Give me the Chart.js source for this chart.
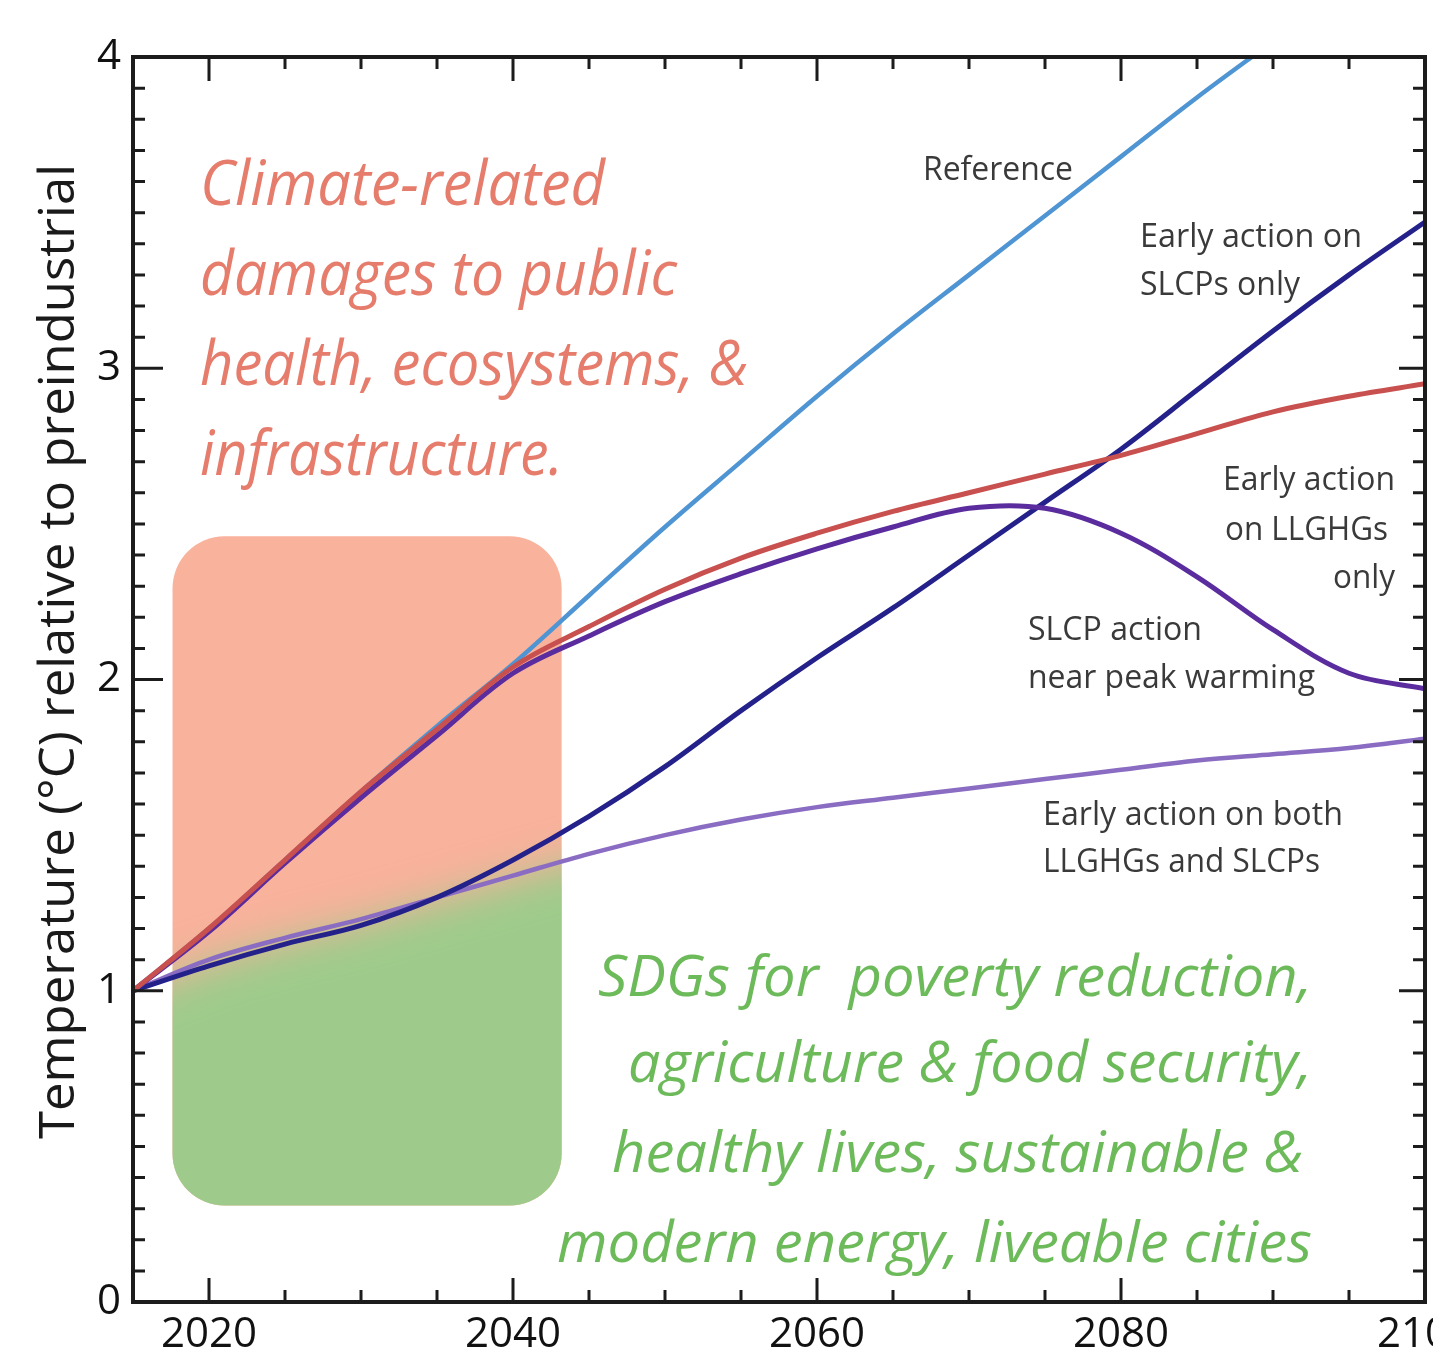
<!DOCTYPE html>
<html>
<head>
<meta charset="utf-8">
<script src="https://cdn.jsdelivr.net/npm/chart.js@4.4.1/dist/chart.umd.min.js"></script>
<style>
html, body { margin: 0; padding: 0; background: #fff; overflow: hidden; }
#wrap { width: 1433px; height: 1349px; overflow: hidden; }
</style>
</head>
<body>
<div id="wrap"><canvas id="chart" width="1500" height="1349"></canvas></div>
<script>
// warming pathways, degC above preindustrial, every 5 years
const years = [2015, 2020, 2025, 2030, 2035, 2040, 2045, 2050, 2055, 2060,
               2065, 2070, 2075, 2080, 2085, 2090, 2095, 2100];
const reference = [1.0, 1.2, 1.42, 1.64, 1.85, 2.05, 2.27, 2.49, 2.7, 2.91,
                   3.11, 3.3, 3.49, 3.68, 3.87, 4.05, null, null];
const llghgOnly = [1.0, 1.2, 1.42, 1.64, 1.84, 2.04, 2.17, 2.29, 2.39, 2.47,
                   2.54, 2.6, 2.66, 2.72, 2.79, 2.86, 2.91, 2.95];
const slcpNearPeak = [1.0, 1.19, 1.41, 1.62, 1.82, 2.02, 2.14, 2.25, 2.34, 2.42,
                      2.49, 2.55, 2.55, 2.47, 2.33, 2.16, 2.02, 1.97];
const slcpOnly = [1.0, 1.08, 1.15, 1.21, 1.3, 1.42, 1.56, 1.72, 1.9, 2.07,
                  2.23, 2.4, 2.57, 2.74, 2.93, 3.12, 3.3, 3.47];
const bothEarly = [1.0, 1.1, 1.17, 1.23, 1.3, 1.37, 1.44, 1.5, 1.55, 1.59,
                   1.62, 1.65, 1.68, 1.71, 1.74, 1.76, 1.78, 1.81];

const xTickStep = 5, xLabelEvery = 20;
const yTickStep = 0.1;
const yTitle = "Temperature (°C) relative to preindustrial";

// shaded box spanning the near-term decades (data units)
const box = {x0: 2017.6, x1: 2043.2, y0: 0.31, y1: 2.46, r: 52};

// annotation text: [text, x, baseline, width, align]
const redNotes = [
    ["Climate-related", 200, 205, 405, "left"],
    ["damages to public", 200, 295, 477, "left"],
    ["health, ecosystems, &", 200, 385, 548, "left"],
    ["infrastructure.", 200, 475, 363, "left"]
];
const greenNotes = [
    ["SDGs for  poverty reduction,", 1312, 996, 714, "right"],
    ["agriculture & food security,", 1312, 1082, 684, "right"],
    ["healthy lives, sustainable &", 1303, 1172, 691, "right"],
    ["modern energy, liveable cities", 1312, 1262, 755, "right"]
];
const grayNotes = [
    ["Reference", 923, 180, 150, "left"],
    ["Early action on", 1140, 247, 222, "left"],
    ["SLCPs only", 1140, 295, 160, "left"],
    ["Early action", 1395, 490, 172, "right"],
    ["on LLGHGs", 1388, 540, 163, "right"],
    ["only", 1395, 588, 62, "right"],
    ["SLCP action", 1028, 640, 174, "left"],
    ["near peak warming", 1028, 688, 287, "left"],
    ["Early action on both", 1043, 825, 300, "left"],
    ["LLGHGs and SLCPs", 1043, 872, 277, "left"]
];

function pts(vals) {
    return years.map((y, i) => ({x: y, y: vals[i]}));
}

function fitText(ctx, t, x, y, w, align) {
    ctx.save();
    const m = ctx.measureText(t).width;
    ctx.translate(align === "right" ? x - w : x, y);
    ctx.scale(w / m, 1);
    ctx.textAlign = "left";
    ctx.textBaseline = "alphabetic";
    ctx.fillText(t, 0, 0);
    ctx.restore();
}

function roundRect(ctx, x0, y0, x1, y1, r) {
    ctx.beginPath();
    ctx.moveTo(x0 + r, y0);
    ctx.arcTo(x1, y0, x1, y1, r);
    ctx.arcTo(x1, y1, x0, y1, r);
    ctx.arcTo(x0, y1, x0, y0, r);
    ctx.arcTo(x0, y0, x1, y0, r);
    ctx.closePath();
}

const boxPlugin = {
    id: "box",
    beforeDatasetsDraw(chart) {
        const {ctx, scales: {x, y}} = chart;
        const l = x.getPixelForValue(box.x0), r = x.getPixelForValue(box.x1);
        const t = y.getPixelForValue(box.y1), b = y.getPixelForValue(box.y0);
        ctx.save();
        roundRect(ctx, l, t, r, b, box.r);
        ctx.fillStyle = "#f9b29c";
        ctx.fill();
        ctx.clip();
        // green below the "both" pathway, soft edge
        const meta = chart.getDatasetMeta(4);
        ctx.filter = "blur(20px)";
        ctx.beginPath();
        ctx.moveTo(meta.data[0].x - 60, b + 80);
        ctx.lineTo(meta.data[0].x - 60, meta.data[0].y + 4);
        meta.data.forEach(p => ctx.lineTo(p.x, p.y + 4));
        ctx.lineTo(r + 80, b + 80);
        ctx.closePath();
        ctx.fillStyle = "#9ecb8b";
        ctx.fill();
        ctx.restore();
    }
};

const framePlugin = {
    id: "frame",
    afterDatasetsDraw(chart) {
        const {ctx, chartArea: a, scales: {x, y}} = chart;
        ctx.save();
        ctx.strokeStyle = "#1c1c1c";
        ctx.lineWidth = 3;
        ctx.beginPath();
        x.ticks.forEach(tk => {
            const px = x.getPixelForValue(tk.value);
            const len = tk.value % xLabelEvery === 0 ? 24 : 12;
            ctx.moveTo(px, a.bottom); ctx.lineTo(px, a.bottom - len);
            ctx.moveTo(px, a.top); ctx.lineTo(px, a.top + len);
        });
        y.ticks.forEach(tk => {
            const py = y.getPixelForValue(tk.value);
            const major = Math.abs(tk.value - Math.round(tk.value)) < 1e-6;
            ctx.moveTo(a.left, py); ctx.lineTo(a.left + (major ? 30 : 12), py);
            ctx.moveTo(a.right, py); ctx.lineTo(a.right - (major ? 26 : 12), py);
        });
        ctx.stroke();
        ctx.lineWidth = 4;
        ctx.strokeRect(a.left, a.top, a.right - a.left, a.bottom - a.top);
        ctx.restore();
    },
    afterDraw(chart) {
        const ctx = chart.ctx;
        ctx.save();
        // axis title, reading bottom to top
        ctx.save();
        ctx.font = '50px "Open Sans"';
        ctx.fillStyle = "#1a1a1a";
        ctx.translate(74, 652);
        ctx.rotate(-Math.PI / 2);
        fitText(ctx, yTitle, -487, 0, 975, "left");
        ctx.restore();

        ctx.font = 'italic 62px "Open Sans"';
        ctx.fillStyle = "#e67c6b";
        redNotes.forEach(n => fitText(ctx, ...n));
        ctx.font = 'italic 56px "Open Sans"';
        ctx.fillStyle = "#6cba5a";
        greenNotes.forEach(n => fitText(ctx, ...n));
        ctx.font = '32px "Open Sans"';
        ctx.fillStyle = "#3a3a3a";
        grayNotes.forEach(n => fitText(ctx, ...n));
        ctx.restore();
    }
};

function line(label, vals, color, width) {
    return {
        label, data: pts(vals), borderColor: color, borderWidth: width,
        pointRadius: 0, tension: 0.35, fill: false, spanGaps: false
    };
}

const tickFont = {family: "Open Sans", size: 42};

new Chart(document.querySelector("#chart"), {
    type: "line",
    data: {
        datasets: [
            line("Early action on LLGHGs only", llghgOnly, "#c8504e", 5),
            line("SLCP action near peak warming", slcpNearPeak, "#5a2c9e", 5),
            line("Reference", reference, "#4f95d3", 4.5),
            line("Early action on SLCPs only", slcpOnly, "#24228a", 5),
            line("Early action on both LLGHGs and SLCPs", bothEarly, "#8a6cc2", 4.5)
        ]
    },
    options: {
        responsive: false,
        animation: false,
        layout: {padding: {left: 0, right: 75, top: 57, bottom: 0}},
        plugins: {legend: {display: false}, tooltip: {enabled: false}},
        scales: {
            x: {
                type: "linear", min: 2015, max: 2100,
                grid: {display: false, drawTicks: false},
                border: {display: false},
                ticks: {
                    stepSize: xTickStep, autoSkip: false, maxRotation: 0,
                    padding: 8, font: tickFont, color: "#111",
                    callback: v => v % xLabelEvery === 0 ? String(v) : ""
                },
                afterFit(s) { s.height = 47; }
            },
            y: {
                min: 0, max: 4,
                grid: {display: false, drawTicks: false},
                border: {display: false},
                ticks: {
                    stepSize: yTickStep, autoSkip: false, padding: 12,
                    font: tickFont, color: "#111",
                    callback: v => Math.abs(v - Math.round(v)) < 1e-6 ? String(Math.round(v)) : ""
                },
                afterFit(s) { s.width = 133; }
            }
        }
    },
    plugins: [boxPlugin, framePlugin]
});
</script>
</body>
</html>
